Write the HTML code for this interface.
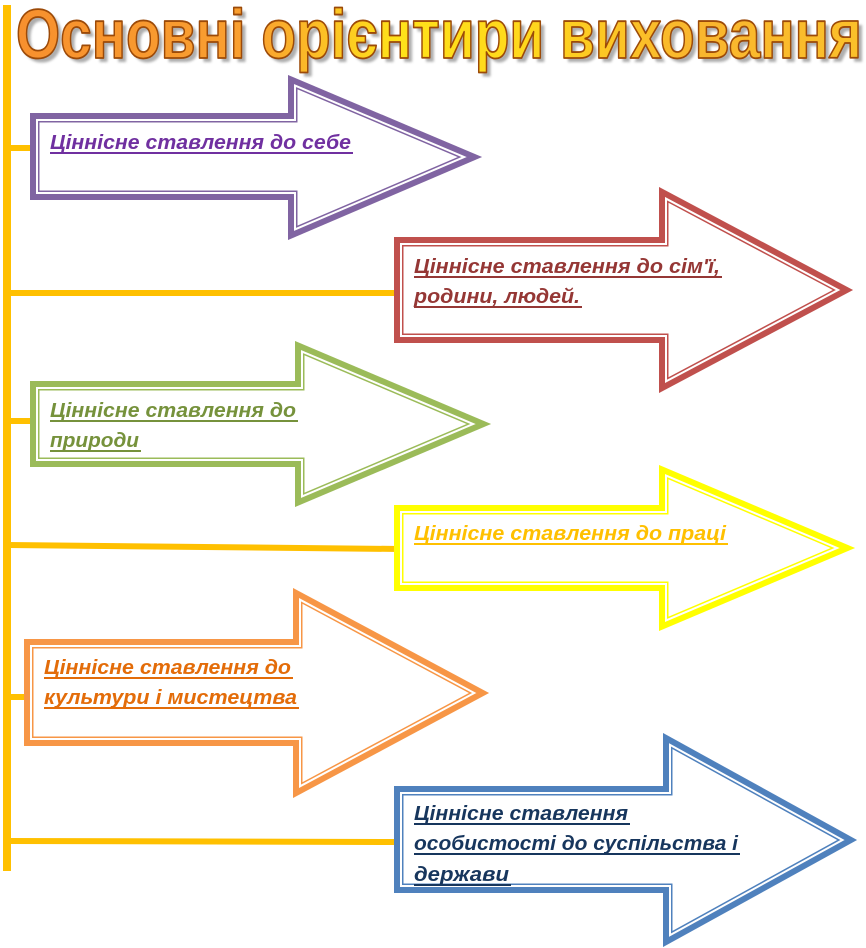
<!DOCTYPE html>
<html>
<head>
<meta charset="utf-8">
<style>
  html, body { margin:0; padding:0; background:#ffffff; }
  body { width:866px; height:948px; overflow:hidden; }
  svg { display:block; }
  .lbl { font-family:"Liberation Sans","DejaVu Sans",sans-serif; font-size:20px; font-weight:bold; font-style:italic; }
  .ttl { font-family:"Liberation Sans","DejaVu Sans",sans-serif; font-size:70px; font-weight:bold; }
</style>
</head>
<body>
<svg width="866" height="948" viewBox="0 0 866 948" xmlns="http://www.w3.org/2000/svg">
  <defs>
    <linearGradient id="tg" x1="0" y1="0" x2="1" y2="0">
      <stop offset="0" stop-color="#F7902E"/>
      <stop offset="0.28" stop-color="#F9A030"/>
      <stop offset="0.45" stop-color="#FFE21A"/>
      <stop offset="0.6" stop-color="#FFD81C"/>
      <stop offset="0.8" stop-color="#F9B52E"/>
      <stop offset="1" stop-color="#FBC02A"/>
    </linearGradient>
    <filter id="blur" x="-5%" y="-20%" width="110%" height="140%">
      <feGaussianBlur stdDeviation="1.2"/>
    </filter>
    <clipPath id="c1"><polygon points="30,113 288,113 288,75 482,157 288,240 288,200 30,200"/></clipPath>
    <clipPath id="c2"><polygon points="394,237 659,237 659,187 853,290 659,393 659,343 394,343"/></clipPath>
    <clipPath id="c3"><polygon points="30,381 295,381 295,341 491,424 295,507 295,467 30,467"/></clipPath>
    <clipPath id="c4"><polygon points="394,505 659,505 659,465 855,548 659,631 659,591 394,591"/></clipPath>
    <clipPath id="c5"><polygon points="24,639 293,639 293,588 489,693 293,798 293,746 24,746"/></clipPath>
    <clipPath id="c6"><polygon points="394,786 663,786 663,733 857,840 663,947 663,893 394,893"/></clipPath>
  </defs>

  <!-- vertical spine -->
  <rect x="3" y="5" width="8" height="866" fill="#FFC000"/>
  <!-- connectors -->
  <line x1="8" y1="148" x2="36" y2="148" stroke="#FFC000" stroke-width="6"/>
  <line x1="8" y1="293" x2="400" y2="293" stroke="#FFC000" stroke-width="6"/>
  <line x1="8" y1="421" x2="36" y2="421" stroke="#FFC000" stroke-width="6"/>
  <line x1="8" y1="545" x2="400" y2="549" stroke="#FFC000" stroke-width="6"/>
  <line x1="8" y1="697" x2="30" y2="697" stroke="#FFC000" stroke-width="6"/>
  <line x1="8" y1="841" x2="400" y2="842" stroke="#FFC000" stroke-width="6"/>

  <!-- Arrow 1 purple -->
  <g stroke-linejoin="miter" stroke-miterlimit="10">
    <polygon points="30,113 288,113 288,75 482,157 288,240 288,200 30,200" fill="#fff"/>
    <g clip-path="url(#c1)" fill="none">
      <polygon points="30,113 288,113 288,75 482,157 288,240 288,200 30,200" stroke="#8064A2" stroke-width="19"/>
      <polygon points="30,113 288,113 288,75 482,157 288,240 288,200 30,200" stroke="#fff" stroke-width="16"/>
      <polygon points="30,113 288,113 288,75 482,157 288,240 288,200 30,200" stroke="#8064A2" stroke-width="12"/>
    </g>
  </g>
  <!-- Arrow 2 red -->
  <g stroke-linejoin="miter" stroke-miterlimit="10">
    <polygon points="394,237 659,237 659,187 853,290 659,393 659,343 394,343" fill="#fff"/>
    <g clip-path="url(#c2)" fill="none">
      <polygon points="394,237 659,237 659,187 853,290 659,393 659,343 394,343" stroke="#C0504D" stroke-width="19"/>
      <polygon points="394,237 659,237 659,187 853,290 659,393 659,343 394,343" stroke="#fff" stroke-width="16"/>
      <polygon points="394,237 659,237 659,187 853,290 659,393 659,343 394,343" stroke="#C0504D" stroke-width="12"/>
    </g>
  </g>
  <!-- Arrow 3 green -->
  <g stroke-linejoin="miter" stroke-miterlimit="10">
    <polygon points="30,381 295,381 295,341 491,424 295,507 295,467 30,467" fill="#fff"/>
    <g clip-path="url(#c3)" fill="none">
      <polygon points="30,381 295,381 295,341 491,424 295,507 295,467 30,467" stroke="#9BBB59" stroke-width="19"/>
      <polygon points="30,381 295,381 295,341 491,424 295,507 295,467 30,467" stroke="#fff" stroke-width="16"/>
      <polygon points="30,381 295,381 295,341 491,424 295,507 295,467 30,467" stroke="#9BBB59" stroke-width="12"/>
    </g>
  </g>
  <!-- Arrow 4 yellow -->
  <g stroke-linejoin="miter" stroke-miterlimit="10">
    <polygon points="394,505 659,505 659,465 855,548 659,631 659,591 394,591" fill="#fff"/>
    <g clip-path="url(#c4)" fill="none">
      <polygon points="394,505 659,505 659,465 855,548 659,631 659,591 394,591" stroke="#FFFF00" stroke-width="19"/>
      <polygon points="394,505 659,505 659,465 855,548 659,631 659,591 394,591" stroke="#fff" stroke-width="16"/>
      <polygon points="394,505 659,505 659,465 855,548 659,631 659,591 394,591" stroke="#FFFF00" stroke-width="12"/>
    </g>
  </g>
  <!-- Arrow 5 orange -->
  <g stroke-linejoin="miter" stroke-miterlimit="10">
    <polygon points="24,639 293,639 293,588 489,693 293,798 293,746 24,746" fill="#fff"/>
    <g clip-path="url(#c5)" fill="none">
      <polygon points="24,639 293,639 293,588 489,693 293,798 293,746 24,746" stroke="#F79646" stroke-width="19"/>
      <polygon points="24,639 293,639 293,588 489,693 293,798 293,746 24,746" stroke="#fff" stroke-width="16"/>
      <polygon points="24,639 293,639 293,588 489,693 293,798 293,746 24,746" stroke="#F79646" stroke-width="12"/>
    </g>
  </g>
  <!-- Arrow 6 blue -->
  <g stroke-linejoin="miter" stroke-miterlimit="10">
    <polygon points="394,786 663,786 663,733 857,840 663,947 663,893 394,893" fill="#fff"/>
    <g clip-path="url(#c6)" fill="none">
      <polygon points="394,786 663,786 663,733 857,840 663,947 663,893 394,893" stroke="#4F81BD" stroke-width="19"/>
      <polygon points="394,786 663,786 663,733 857,840 663,947 663,893 394,893" stroke="#fff" stroke-width="16"/>
      <polygon points="394,786 663,786 663,733 857,840 663,947 663,893 394,893" stroke="#4F81BD" stroke-width="12"/>
    </g>
  </g>

  <!-- Labels -->
  <g class="lbl">
    <text x="50" y="149" fill="#7030A0" textLength="301" lengthAdjust="spacingAndGlyphs">Ціннісне ставлення до себе</text>
    <rect x="50" y="152" width="303" height="2" fill="#7030A0"/>

    <text x="414" y="273" fill="#953735" textLength="306" lengthAdjust="spacingAndGlyphs">Ціннісне ставлення до сім'ї,</text>
    <rect x="414" y="276" width="308" height="2" fill="#953735"/>
    <text x="414" y="303" fill="#953735" textLength="166" lengthAdjust="spacingAndGlyphs">родини, людей.</text>
    <rect x="414" y="306" width="168" height="2" fill="#953735"/>

    <text x="50" y="417" fill="#76923C" textLength="246" lengthAdjust="spacingAndGlyphs">Ціннісне ставлення до</text>
    <rect x="50" y="420" width="248" height="2" fill="#76923C"/>
    <text x="50" y="447" fill="#76923C" textLength="89" lengthAdjust="spacingAndGlyphs">природи</text>
    <rect x="50" y="450" width="91" height="2" fill="#76923C"/>

    <text x="414" y="540" fill="#FFC000" textLength="312" lengthAdjust="spacingAndGlyphs">Ціннісне ставлення до праці</text>
    <rect x="414" y="543" width="314" height="2" fill="#FFC000"/>

    <text x="44" y="674" fill="#E36C09" textLength="247" lengthAdjust="spacingAndGlyphs">Ціннісне ставлення до</text>
    <rect x="44" y="677" width="249" height="2" fill="#E36C09"/>
    <text x="44" y="704" fill="#E36C09" textLength="253" lengthAdjust="spacingAndGlyphs">культури і мистецтва</text>
    <rect x="44" y="707" width="255" height="2" fill="#E36C09"/>

    <text x="414" y="820" fill="#17365D" textLength="214" lengthAdjust="spacingAndGlyphs">Ціннісне ставлення</text>
    <rect x="414" y="823" width="216" height="2" fill="#17365D"/>
    <text x="414" y="850" fill="#17365D" textLength="324" lengthAdjust="spacingAndGlyphs">особистості до суспільства і</text>
    <rect x="414" y="853" width="326" height="2" fill="#17365D"/>
    <text x="414" y="881" fill="#17365D" textLength="95" lengthAdjust="spacingAndGlyphs">держави</text>
    <rect x="414" y="884" width="97" height="2" fill="#17365D"/>
  </g>

  <!-- Title -->
  <g class="ttl">
    <text x="20" y="62" fill="#9a9a9a" opacity="0.8" filter="url(#blur)" textLength="846" lengthAdjust="spacingAndGlyphs">Основні орієнтири виховання</text>
    <text x="16" y="58" fill="url(#tg)" stroke="#9C4A08" stroke-width="1.8" stroke-linejoin="round" textLength="846" lengthAdjust="spacingAndGlyphs">Основні орієнтири виховання</text>
  </g>
</svg>
</body>
</html>
